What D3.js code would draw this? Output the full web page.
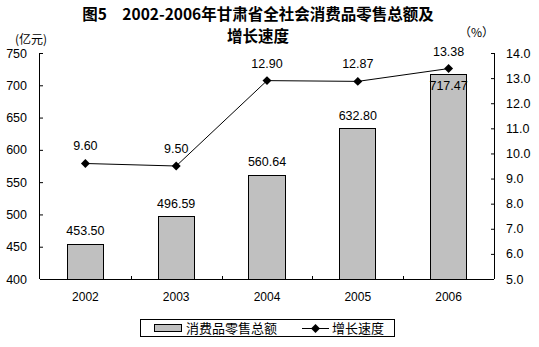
<!DOCTYPE html>
<html>
<head>
<meta charset="utf-8">
<script src="https://cdn.jsdelivr.net/npm/d3@7/dist/d3.min.js"></script>
<style>
  html, body { margin: 0; padding: 0; background: #fff; }
  svg { display: block; }
  text { font-family: "Liberation Sans", Arial, sans-serif; fill: #000; }
  .cjk { font-family: "Noto Sans CJK SC", "Noto Sans", sans-serif; }
</style>
</head>
<body>
<svg id="chart" width="539" height="347"></svg>
<script>
// 2002-2006 甘肃省全社会消费品零售总额（亿元）及增长速度（%）
const years = ["2002", "2003", "2004", "2005", "2006"];
const retailTotal = [453.50, 496.59, 560.64, 632.80, 717.47];
const growthRate = [9.60, 9.50, 12.90, 12.87, 13.38];
const leftTicks = [400, 450, 500, 550, 600, 650, 700, 750];
const rightTicks = [5, 6, 7, 8, 9, 10, 11, 12, 13, 14];
const titleLines = ["图5　2002-2006年甘肃省全社会消费品零售总额及", "增长速度"];
const seriesNames = ["消费品零售总额", "增长速度"];

const svg = d3.select("#chart");
const plot = { left: 40, right: 494, top: 53, bottom: 279 };

const x = d3.scaleBand().domain(years).range([plot.left, plot.right]).paddingInner(0.6).paddingOuter(0.3);
const xBand = d3.scaleBand().domain(years).range([plot.left, plot.right]);
const yL = d3.scaleLinear().domain([400, 750]).range([plot.bottom, plot.top]);
const yR = d3.scaleLinear().domain([5, 14]).range([plot.bottom, plot.top]);

// Title
svg.append("g").selectAll("text").data(titleLines).join("text")
  .attr("class", "cjk")
  .attr("x", 258).attr("y", (d, i) => 20 + i * 22)
  .attr("text-anchor", "middle")
  .attr("font-size", 15.5).attr("font-weight", "bold")
  .text(d => d);

// Unit labels
svg.append("text").attr("class", "cjk").attr("x", 15).attr("y", 44)
  .attr("font-size", 12).text("(亿元)");
svg.append("text").attr("class", "cjk").attr("x", 459).attr("y", 37)
  .attr("font-size", 12).text("（%）");

// Bars
svg.append("g").selectAll("rect").data(years).join("rect")
  .attr("x", d => x(d))
  .attr("width", x.bandwidth())
  .attr("y", (d, i) => yL(retailTotal[i]))
  .attr("height", (d, i) => plot.bottom - yL(retailTotal[i]))
  .attr("fill", "#c0c0c0").attr("stroke", "#000").attr("stroke-width", 1)
  .attr("shape-rendering", "crispEdges");

// Bar value labels (kept inside the plot when the bar nears the top)
svg.append("g").selectAll("text").data(years).join("text")
  .attr("x", d => x(d) + x.bandwidth() / 2)
  .attr("y", (d, i) => {
    const yy = yL(retailTotal[i]) - 9;
    return yy < plot.top + 20 ? yL(retailTotal[i]) + 16 : yy;
  })
  .attr("text-anchor", "middle").attr("font-size", 12.5)
  .text((d, i) => retailTotal[i].toFixed(2));

// Left axis
const leftAxis = d3.axisLeft(yL).tickValues(leftTicks).tickSize(-3).tickPadding(13).tickFormat(d3.format("d"));
const gl = svg.append("g").attr("transform", `translate(${plot.left},0)`).call(leftAxis);
gl.select(".domain").attr("d", `M-0.5,${plot.top}V${plot.bottom}`).attr("stroke", "#000");

// Right axis
const rightAxis = d3.axisRight(yR).tickValues(rightTicks).tickSize(-3).tickPadding(12).tickFormat(d3.format(".1f"));
const gr = svg.append("g").attr("transform", `translate(${plot.right},0)`).call(rightAxis);
gr.select(".domain").attr("d", `M0.5,${plot.top}V${plot.bottom}`).attr("stroke", "#000");

[gl, gr].forEach(g => {
  g.selectAll("text").attr("font-size", 12.5).attr("font-family", "'Liberation Sans', Arial, sans-serif");
  g.selectAll(".tick line").attr("stroke", "#000");
});

// Bottom axis with ticks between categories
const gb = svg.append("g").attr("transform", `translate(0,${plot.bottom})`);
gb.append("line").attr("x1", plot.left).attr("x2", plot.right).attr("y1", 0.5).attr("y2", 0.5).attr("stroke", "#000");
gb.selectAll("line.sep").data(years.slice(1)).join("line").attr("class", "sep")
  .attr("x1", d => Math.round(xBand(d)) + 0.5).attr("x2", d => Math.round(xBand(d)) + 0.5)
  .attr("y1", 0).attr("y2", -3).attr("stroke", "#000");
gb.selectAll("text").data(years).join("text")
  .attr("x", d => xBand(d) + xBand.bandwidth() / 2)
  .attr("y", 22).attr("text-anchor", "middle").attr("font-size", 12)
  .text(d => d);

// Growth line
const cx = d => xBand(d) + xBand.bandwidth() / 2;
const line = d3.line().x((d, i) => cx(years[i])).y(d => yR(d));
svg.append("path").datum(growthRate).attr("d", line)
  .attr("fill", "none").attr("stroke", "#000").attr("stroke-width", 1);

const diamond = d3.symbol().type(d3.symbolSquare).size(40);
svg.append("g").selectAll("path").data(growthRate).join("path")
  .attr("transform", (d, i) => `translate(${cx(years[i])},${yR(d)}) rotate(45)`)
  .attr("d", diamond).attr("fill", "#000");

svg.append("g").selectAll("text").data(growthRate).join("text")
  .attr("x", (d, i) => cx(years[i]))
  .attr("y", d => yR(d) - 13)
  .attr("text-anchor", "middle").attr("font-size", 12.5)
  .text(d => d.toFixed(2));

// Legend
const lg = svg.append("g");
lg.append("rect").attr("x", 140.5).attr("y", 319.5).attr("width", 254).attr("height", 17)
  .attr("fill", "#fff").attr("stroke", "#000");
lg.append("rect").attr("x", 154.5).attr("y", 324.5).attr("width", 27).attr("height", 7)
  .attr("fill", "#c0c0c0").attr("stroke", "#000");
lg.append("text").attr("class", "cjk").attr("x", 186).attr("y", 332.5).attr("font-size", 13).text(seriesNames[0]);
lg.append("line").attr("x1", 302).attr("x2", 329).attr("y1", 328.5).attr("y2", 328.5).attr("stroke", "#000");
lg.append("path").attr("transform", "translate(315.5,328.5) rotate(45)").attr("d", diamond).attr("fill", "#000");
lg.append("text").attr("class", "cjk").attr("x", 332).attr("y", 332.5).attr("font-size", 13).text(seriesNames[1]);
</script>
</body>
</html>
